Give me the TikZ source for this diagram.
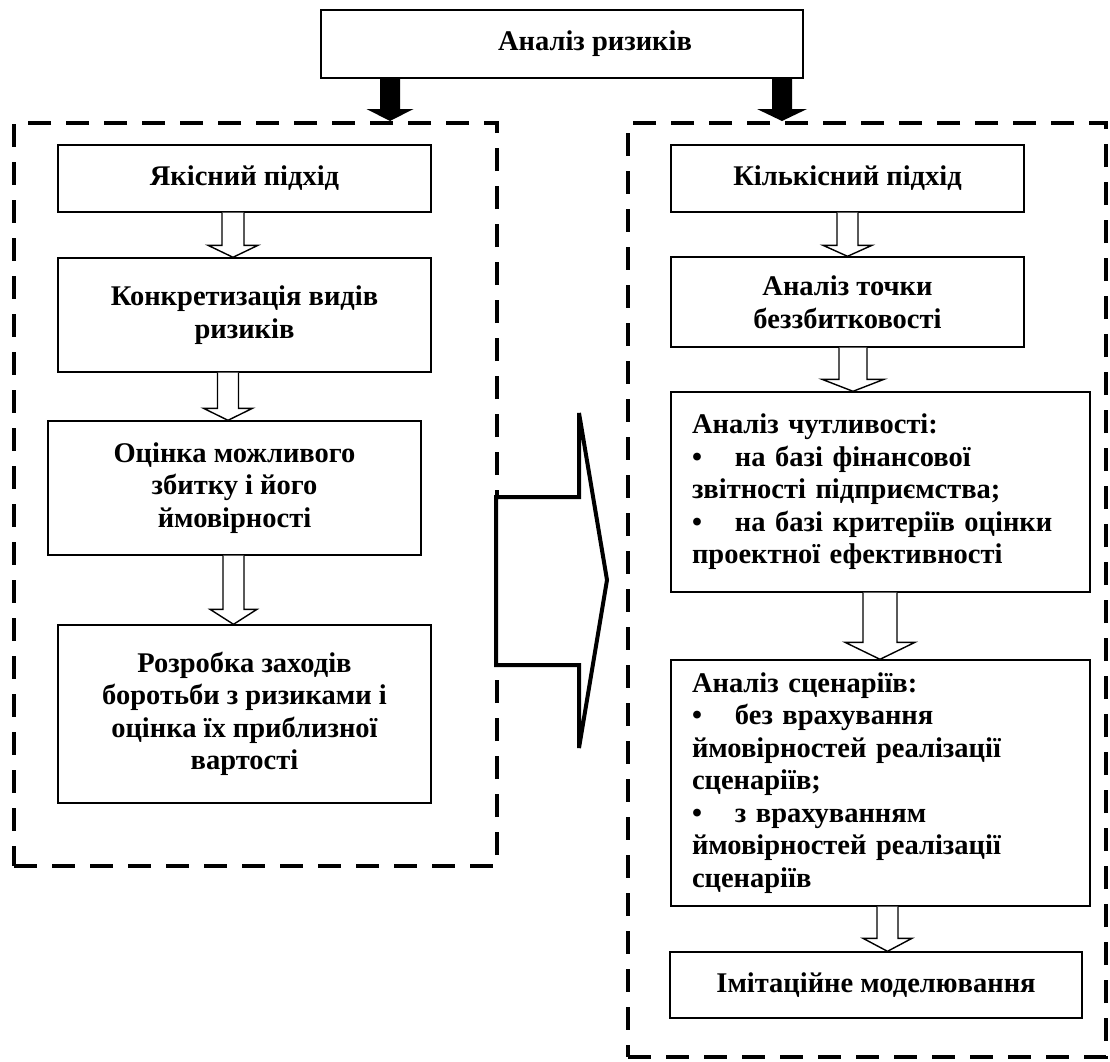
\documentclass[tikz,border=0pt]{standalone}
\usepackage{fontspec}
\setmainfont{Liberation Serif}
\usetikzlibrary{calc}
\newcommand\hollowarr[6]{% x-centre, from, to, half shaft, half head, head length
  \draw[harr] let \p1=(#2.south), \p2=(#3.north) in
    (#1pt-#4pt,\y1) -- (#1pt-#4pt,\y2+#6pt) -- (#1pt-#5pt,\y2+#6pt) -- (#1pt,\y2)
    -- (#1pt+#5pt,\y2+#6pt) -- (#1pt+#4pt,\y2+#6pt) -- (#1pt+#4pt,\y1);}
\newcommand\blackarr[6]{%
  \fill[barr] let \p1=(#2.south), \p2=(#3.north) in
    (#1pt-#4pt,\y1) -- (#1pt-#4pt,\y2+#6pt) -- (#1pt-#5pt,\y2+#6pt) -- (#1pt,\y2)
    -- (#1pt+#5pt,\y2+#6pt) -- (#1pt+#4pt,\y2+#6pt) -- (#1pt+#4pt,\y1) -- cycle;}
\newcommand\bul{\makebox[43pt][l]{•}}
\begin{document}
\begin{tikzpicture}[x=1pt,y=-1pt,
  box/.style={draw, line width=1.4pt, fill=white, inner sep=0pt, align=center,
    font=\fontsize{28.5}{32.5}\selectfont\bfseries},
  lbox/.style={box, align=left, inner xsep=21pt, inner ysep=0pt},
  dbox/.style={draw, line width=4pt, dash pattern=on 23pt off 15pt, inner sep=0pt},
  harr/.style={draw, line width=1.4pt, fill=white, line join=miter},
  barr/.style={black},
  bigarr/.style={draw, line width=4pt, line join=miter, fill=white}
]
\useasboundingbox (0,0) rectangle (1110,1061);

% dashed frames
\node[dbox, minimum width=483pt, minimum height=743pt] (LB) at (255.5,494.5) {};
\node[dbox, minimum width=478pt, minimum height=934pt] (RB) at (867,590) {};

% top
\node[box, minimum width=482pt, minimum height=68pt] (top) at (562,44) {\hspace*{66pt}Аналіз ризиків};

% left column
\node[box, minimum width=373pt, minimum height=67pt]  (L1) at (244.5,178.5) {Якісний підхід};
\node[box, minimum width=373pt, minimum height=114pt] (L2) at (244.5,315) {Конкретизація видів\\ризиків};
\node[box, minimum width=373pt, minimum height=134pt] (L3) at (234.5,488) {Оцінка можливого\\збитку і його\\ймовірності};
\node[box, minimum width=373pt, minimum height=178pt] (L4) at (244.5,714) {Розробка заходів\\боротьби з ризиками і\\оцінка їх приблизної\\вартості};

% right column
\node[box, minimum width=353pt, minimum height=67pt] (R1) at (847.5,178.5) {Кількісний підхід};
\node[box, minimum width=353pt, minimum height=90pt] (R2) at (847.5,302) {Аналіз точки\\беззбитковості};
\node[lbox, text width=377pt, minimum height=200pt] (R3) at (880.5,492) {Аналіз чутливості:\\
  \bul на базі фінансової\\звітності підприємства;\\\bul на базі критеріїв оцінки\\проектної ефективності};
\node[lbox, text width=377pt, minimum height=246pt] (R4) at (880.5,783) {Аналіз сценаріїв:\\
  \bul без врахування\\ймовірностей реалізації\\сценаріїв;\\\bul з врахуванням\\ймовірностей реалізації\\сценаріїв};
\node[box, minimum width=412pt, minimum height=66pt] (R5) at (876,985) {Імітаційне моделювання};

% black arrows from the top box
\blackarr{390}{top}{LB}{10}{23.5}{12}
\blackarr{782}{top}{RB}{10}{25}{12}

% hollow arrows
\hollowarr{233}{L1}{L2}{11}{25}{12}
\hollowarr{228}{L2}{L3}{10.5}{24.5}{12}
\hollowarr{233.5}{L3}{L4}{10.5}{23.5}{15}
\hollowarr{847.5}{R1}{R2}{10.5}{24.5}{11}
\hollowarr{853}{R2}{R3}{14}{31}{12}
\hollowarr{880}{R3}{R4}{17}{35}{17}
\hollowarr{887.5}{R4}{R5}{10.5}{24.5}{13}

% big block arrow between the two frames
\draw[bigarr] (496,497) -- (579,497) -- (579,413) -- (607,580) -- (579,748)
  -- (579,665) -- (496,665) -- cycle;
\end{tikzpicture}
\end{document}
